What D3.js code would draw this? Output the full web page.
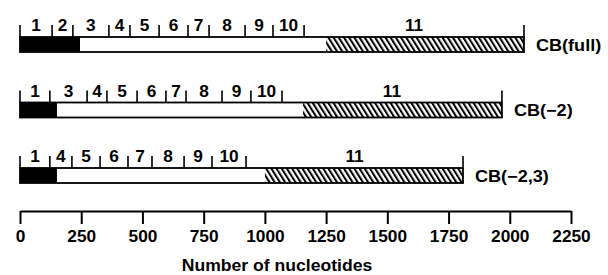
<!DOCTYPE html>
<html>
<head>
<meta http-equiv="Content-Type" content="text/html;charset=utf-8">
<title>CB constructs</title>
<script type="text/javascript" src="https://d3js.org/d3.v7.min.js"></script>
<style type="text/css">
	body { margin: 0; background: white; }
	svg text {
		font-family: "Liberation Sans", Arial, Helvetica, sans-serif;
		font-weight: bold;
		fill: black;
	}
	.axis .domain, .axis .tick line { stroke: black; stroke-width: 2; }
</style>
</head>
<body>
<div id="chart"></div>
<script type="text/javascript">
	// data
	var constructs = ["CB(full)", "CB(\u22122)", "CB(\u22122,3)"];
	var exonLabels = [
		["1", "2", "3", "4", "5", "6", "7", "8", "9", "10", "11"],
		["1", "3", "4", "5", "6", "7", "8", "9", "10", "11"],
		["1", "4", "5", "6", "7", "8", "9", "10", "11"]
	];
	// exon boundaries in nucleotides
	var exonBounds = [
		[0, 131, 216, 363, 449, 568, 686, 772, 919, 1033, 1160, 2058],
		[0, 122, 274, 355, 478, 596, 678, 825, 943, 1070, 1968],
		[0, 122, 212, 327, 441, 539, 670, 784, 923, 1809]
	];
	var blackEnd = [245, 151, 151];
	var hatchStart = [1250, 1156, 1000];
	var axisTicks = [0, 250, 500, 750, 1000, 1250, 1500, 1750, 2000, 2250];
	var axisTitle = "Number of nucleotides";

	var W = 608, H = 275;
	var svg = d3.select("#chart").append("svg")
		.attr("width", W)
		.attr("height", H);

	var defs = svg.append("defs");
	defs.append("pattern")
		.attr("id", "hatch")
		.attr("patternUnits", "userSpaceOnUse")
		.attr("width", 4.4)
		.attr("height", 10)
		.attr("patternTransform", "rotate(-32)")
		.append("line")
			.attr("x1", 1).attr("y1", 0)
			.attr("x2", 1).attr("y2", 10)
			.attr("stroke", "black")
			.attr("stroke-width", 2.1);

	var x = d3.scaleLinear().domain([0, 2250]).range([20, 571]);
	var y = d3.scalePoint().domain(d3.range(constructs.length)).range([37, 168]);
	var barH = 15, tickH = 12;
	var sx = "scale(1.08,1)";

	var rows = svg.selectAll("g.row")
		.data(constructs)
		.enter().append("g")
		.attr("class", "row")
		.attr("transform", function(d, i) { return "translate(0," + y(i) + ")"; });

	rows.each(function(name, i) {
		var g = d3.select(this);
		var b = exonBounds[i];
		var end = b[b.length - 1];

		g.append("rect")
			.attr("x", x(0)).attr("y", 0)
			.attr("width", x(blackEnd[i]) - x(0)).attr("height", barH)
			.attr("fill", "black");
		g.append("rect")
			.attr("x", x(blackEnd[i])).attr("y", 0)
			.attr("width", x(hatchStart[i]) - x(blackEnd[i])).attr("height", barH)
			.attr("fill", "white");
		g.append("rect")
			.attr("x", x(hatchStart[i])).attr("y", 0)
			.attr("width", x(end) - x(hatchStart[i])).attr("height", barH)
			.attr("fill", "url(#hatch)");
		g.append("rect")
			.attr("x", x(0)).attr("y", 0)
			.attr("width", x(end) - x(0)).attr("height", barH)
			.attr("fill", "none")
			.attr("stroke", "black")
			.attr("stroke-width", 1.8);

		// exon boundary ticks
		g.selectAll("line.ex")
			.data(b)
			.enter().append("line")
			.attr("class", "ex")
			.attr("x1", function(d) { return x(d); })
			.attr("x2", function(d) { return x(d); })
			.attr("y1", 0)
			.attr("y2", -tickH)
			.attr("stroke", "black")
			.attr("stroke-width", 1.6);

		// exon numbers
		g.selectAll("text.ex")
			.data(exonLabels[i])
			.enter().append("text")
			.attr("class", "ex")
			.attr("text-anchor", "middle")
			.attr("font-size", 16)
			.attr("transform", function(d, j) {
				return "translate(" + ((x(b[j]) + x(b[j + 1])) / 2) + "," + (-6) + ") " + sx;
			})
			.text(function(d) { return d; });

		g.append("text")
			.attr("font-size", 16)
			.attr("transform", "translate(" + (x(end) + 12) + "," + (barH / 2 + 6) + ") scale(1.13,1)")
			.text(name);
	});

	// nucleotide axis
	var axis = d3.axisBottom(x)
		.tickValues(axisTicks)
		.tickSize(13)
		.tickSizeOuter(0)
		.tickPadding(7)
		.tickFormat(d3.format("d"));

	var ax = svg.append("g")
		.attr("class", "axis")
		.attr("transform", "translate(0,211)")
		.call(axis);
	ax.selectAll(".tick text")
		.attr("font-size", 16)
		.attr("font-family", null)
		.attr("fill", "black")
		.attr("transform", sx);

	svg.append("text")
		.attr("text-anchor", "middle")
		.attr("font-size", 16)
		.attr("transform", "translate(277,271) scale(1.1,1)")
		.text(axisTitle);
</script>
</body>
</html>
